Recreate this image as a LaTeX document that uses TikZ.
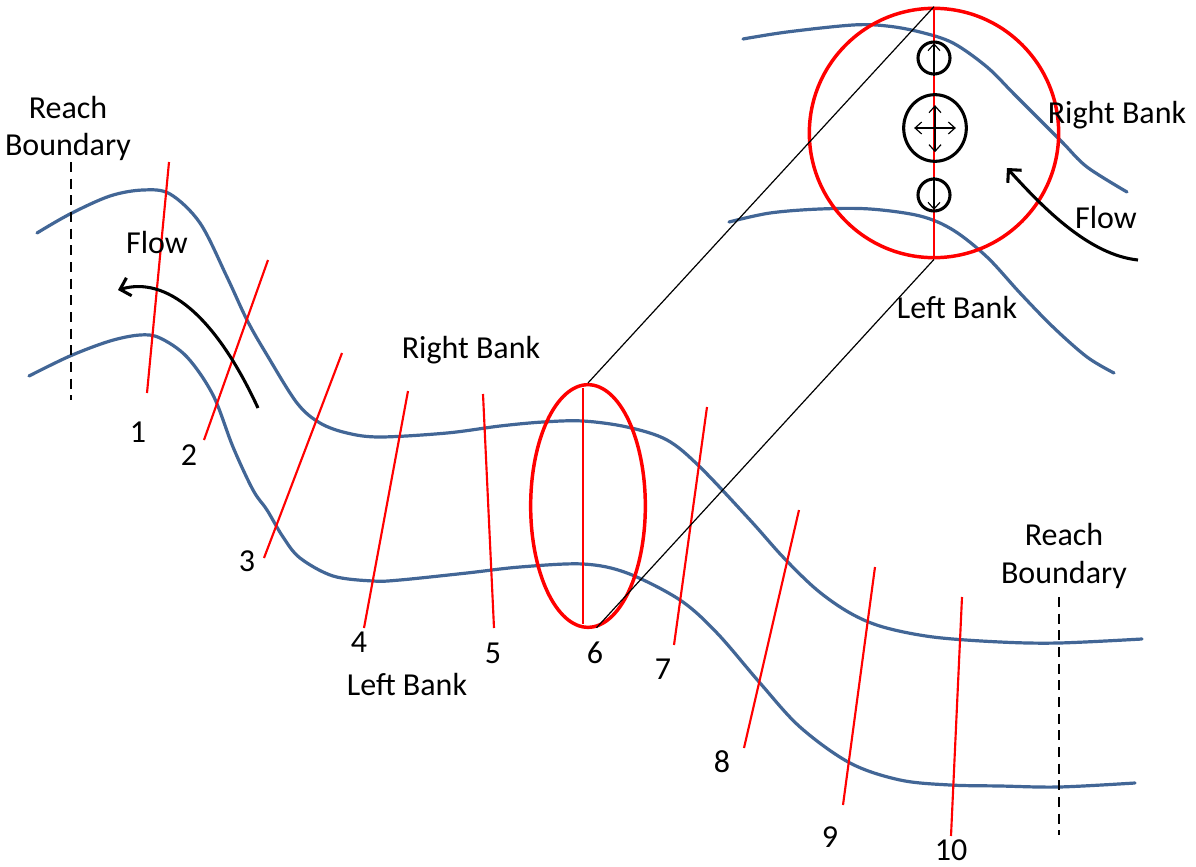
\documentclass[tikz,border=0pt]{standalone}
\usepackage{fontspec}
\setmainfont{Carlito}
\usetikzlibrary{arrows.meta,shapes.geometric}
\definecolor{bankblue}{RGB}{66,102,150}
\begin{document}
\begin{tikzpicture}[x=0.75pt,y=-0.75pt,
  bank/.style={draw=bankblue,line width=2.4pt,line cap=round},
  sec/.style={draw=red,line width=1.6pt},
  bound/.style={draw=black,line width=1.8pt,dash pattern=on 7.5pt off 5pt},
  lbl/.style={font=\fontsize{24}{28}\selectfont,inner sep=0pt,align=center},
  flowarrow/.style={draw=black,line width=2.3pt,-{Straight Barb[length=7pt,width=14pt,line width=2.3pt]}},
  small/.style={draw=black,line width=0.9pt},
  ring/.style={draw=black,line width=2.3pt,circle,inner sep=0pt},
  connector/.style={draw=black,line width=0.9pt}
]
\useasboundingbox[fill=white] (0,0) rectangle (1196,867);

% main river banks
\draw[bank] plot[smooth,tension=0.55] coordinates {(37,233) (70,214) (110,196) (143,190) (170,194) (200,223) (227,277) (247,320) (267,355) (297,403) (320,423) (347,433) (380,437) (447,433) (500,426) (543,422) (583,421) (627,427) (667,440) (700,467) (750,520) (783,557) (817,590) (850,613) (883,627) (933,637) (1000,642) (1059,643) (1142,639)};
\draw[bank] plot[smooth,tension=0.55] coordinates {(29,376) (70,356) (110,341) (140,335) (160,338) (187,357) (213,395) (233,447) (253,490) (267,510) (283,537) (300,558) (333,576) (373,581) (400,580) (467,573) (520,567) (583,564) (627,573) (680,600) (717,633) (760,683) (800,727) (850,763) (900,780) (950,785) (1000,786) (1059,787) (1135,783)};

% inset banks
\draw[bank] plot[smooth,tension=0.55] coordinates {(743,39) (787,32) (853,25) (887,26) (920,32) (953,43) (987,67) (1013,93) (1037,117) (1063,143) (1087,167) (1127,192)};
\draw[bank] plot[smooth,tension=0.55] coordinates {(729,222) (770,213) (820,209) (870,209) (920,216) (953,230) (987,257) (1020,293) (1053,327) (1087,357) (1114,373)};

% reach boundaries
\draw[bound] (71,162) -- (71,400);
\draw[bound] (1059,597) -- (1059,835);
\node[lbl,anchor=base] (rbl) at (68,156) {Reach\\Boundary};
\node[lbl,anchor=base] (rbr) at (1064,583) {Reach\\Boundary};

% cross sections
\draw[sec] (169,162) -- (147,393);
\draw[sec] (268,260) -- (204,440);
\draw[sec] (342,353) -- (264,558);
\draw[sec] (408,391) -- (364,628);
\draw[sec] (483,394) -- (494,628);
\draw[sec] (583,388) -- (583,624);
\draw[sec] (707,407) -- (674,645);
\draw[sec] (799,510) -- (744,748);
\draw[sec] (875,567) -- (843,805);
\draw[sec] (962,597) -- (951,836);

\node[lbl,anchor=base] (n1) at (138,442) {1};
\node[lbl,anchor=base] (n2) at (189,465) {2};
\node[lbl,anchor=base] (n3) at (247,571) {3};
\node[lbl,anchor=base] (n4) at (359,652) {4};
\node[lbl,anchor=base] (n5) at (493,663) {5};
\node[lbl,anchor=base] (n6) at (595,663) {6};
\node[lbl,anchor=base] (n7) at (663,679) {7};
\node[lbl,anchor=base] (n8) at (722,772) {8};
\node[lbl,anchor=base] (n9) at (830,847) {9};
\node[lbl,anchor=base] (n10) at (951,860) {10};

\node[lbl,anchor=base] (rb) at (471,358) {Right Bank};
\node[lbl,anchor=base] (lb) at (407,695) {Left Bank};
\node[lbl,anchor=base] (fl) at (157,253) {Flow};

% flow arrow main
\draw[flowarrow] (258,408) .. controls (215,315) and (166,276) .. (118,290);

% ellipse around section 6
\node[draw=red,line width=2.6pt,ellipse,inner sep=0pt,minimum width=86pt,minimum height=182pt] (ell) at (588,506) {};

% inset circle
\node[draw=red,line width=2.6pt,circle,inner sep=0pt,minimum size=187pt] (mag) at (934,133) {};
\draw[red,line width=1.6pt] (mag.north) -- (mag.south);

% connectors
\draw[connector] (ell.north) -- (mag.north);
\draw[connector] (ell.-86) -- (mag.south);

% velocity symbols
\node[ring,minimum size=24pt] (c1) at (934,58) {};
\node[ring,ellipse,minimum width=47pt,minimum height=50pt] (c2) at (935,128) {};
\node[ring,minimum size=24pt] (c3) at (934,195) {};
\draw[small,-{Straight Barb[length=5pt,width=9pt,line width=0.9pt]}] (c1.south) -- ([yshift=-2pt]c1.north);
\draw[small,-{Straight Barb[length=5pt,width=9pt,line width=0.9pt]}] (c3.north) -- ([yshift=2pt]c3.south);
\draw[small,{Straight Barb[length=5pt,width=9pt,line width=0.9pt]}-{Straight Barb[length=5pt,width=9pt,line width=0.9pt]}] ([xshift=9pt]c2.west) -- ([xshift=-9pt]c2.east);
\draw[small,{Straight Barb[length=5pt,width=9pt,line width=0.9pt]}-{Straight Barb[length=5pt,width=9pt,line width=0.9pt]}] ([yshift=-9pt]c2.north) -- ([yshift=8pt]c2.south);

% inset labels and flow
\node[lbl,anchor=base] (rbi) at (1117,123) {Right Bank};
\node[lbl,anchor=base] (fli) at (1106,228) {Flow};
\node[lbl,anchor=base] (lbi) at (957,318) {Left Bank};
\draw[flowarrow] (1138,260) .. controls (1090,255) and (1045,210) .. (1007,168);
\end{tikzpicture}
\end{document}
